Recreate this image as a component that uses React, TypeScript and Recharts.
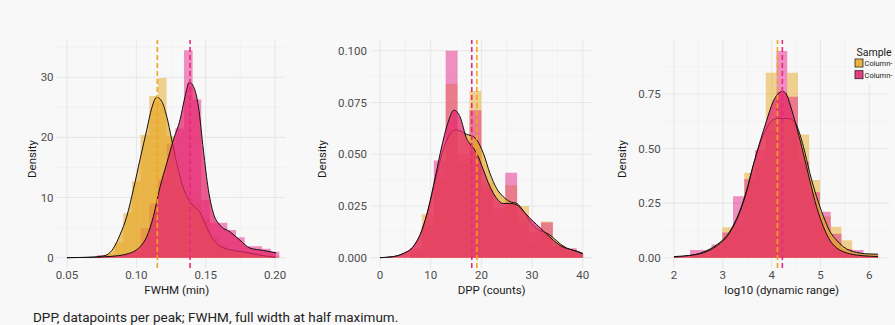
import React from 'react';
import { ComposedChart, Area, XAxis, YAxis, CartesianGrid, ReferenceLine } from 'recharts';

const FONT = 'Roboto, "Liberation Sans", Arial, sans-serif';
const BG = '#f8f8f8';
const ORANGE = '#E6A826';
const PINK = '#E42686';
const PINK_DENS = '#E6286E';
const ORANGE_MEAN = '#F0A51A';
const PINK_MEAN = '#E8287E';
const HIST_OPACITY = 0.5;
const DENS_OPACITY_A = 0.68;
const DENS_OPACITY_B = 0.75;

const sampleNames = ['Column-', 'Column-'];
const captionText = 'DPP, datapoints per peak; FWHM, full width at half maximum.';

// ---------- Panel 1: FWHM ----------
const fwhmBinEdges = [0.0718, 0.07805, 0.0843, 0.09055, 0.0968, 0.10305, 0.1093, 0.11555, 0.1218, 0.12805, 0.1343,
  0.14055, 0.1468, 0.15305, 0.1593, 0.16555, 0.1718, 0.17805, 0.1843, 0.19055, 0.1968, 0.20305];
const fwhmHistA = [0, 0.6, 2.5, 7.4, 12.7, 20.4, 26.9, 29.9, 20.2, 12, 10, 9.1, 6.5, 3.5, 2.0, 1.3, 1.2, 1.0, 0.8, 0.5, 0.3];
const fwhmHistB = [0.45, 0.3, 0.3, 0.6, 1.0, 4.9, 9, 13, 19, 21.5, 34.5, 26.3, 9.6, 5.8, 5.8, 4.6, 3.4, 1.9, 1.9, 1.5, 1.0];
const fwhmDensAx = [0.05, 0.0644, 0.0738, 0.0786, 0.0834, 0.0882, 0.093, 0.0978, 0.1026, 0.1075, 0.1111, 0.1147, 0.1183,
  0.1219, 0.1255, 0.1291, 0.1327, 0.1363, 0.1411, 0.1459, 0.1507, 0.1555, 0.1603, 0.1699, 0.1796, 0.1892, 0.2];
const fwhmDensAy = [0, 0.05, 0.2, 0.45, 1.55, 3.8, 6.8, 11.3, 16.3, 21.3, 24.9, 26.7, 26.0, 23.5, 19.6, 15.7, 12.4, 10.2,
  8.6, 7.5, 5.0, 3.0, 1.9, 1.2, 0.85, 0.4, 0.05];
const fwhmDensBx = [0.05, 0.0738, 0.081, 0.093, 0.1026, 0.1075, 0.1122, 0.1171, 0.1219, 0.1267, 0.1315, 0.1351, 0.1382,
  0.1411, 0.1447, 0.1483, 0.1519, 0.1555, 0.1603, 0.1675, 0.1747, 0.1819, 0.1915, 0.2007];
const fwhmDensBy = [0, 0.1, 0.2, 0.6, 1.8, 3.5, 6.8, 11.8, 15.7, 19.6, 22.95, 26.8, 29.2, 28.5, 25.2, 17.9, 11.3, 7.4,
  5.4, 4.3, 2.9, 1.6, 1.2, 0.8];
const fwhmMeans = [0.1151, 0.1387];
const fwhmXTicks = [0.05, 0.1, 0.15, 0.2];
const fwhmXMinor = [0.075, 0.125, 0.175];
const fwhmYTicks = [0, 10, 20, 30];
const fwhmYMinor = [5, 15, 25, 35];

// ---------- Panel 2: DPP ----------
const dppBinEdges = [5.9, 8.25, 10.6, 12.95, 15.3, 17.65, 20.0, 22.35, 24.7, 27.05, 29.4, 31.75, 34.1, 36.45, 38.8, 40.1];
const dppHistA = [0.002, 0.021, 0.038, 0.084, 0.045, 0.0805, 0.036, 0.02, 0.035, 0.025, 0.0065, 0.0175, 0.006, 0.003, 0.002];
const dppHistB = [0.0045, 0.015, 0.047, 0.1, 0.05, 0.0713, 0.033, 0.024, 0.041, 0.017, 0.0125, 0.017, 0.0055, 0.0045, 0.0015];
const dppDensAx = [0, 2.6, 4.6, 6.6, 8.2, 9.5, 10.9, 12.2, 13.5, 14.8, 15.8, 17.1, 18.4, 19.1, 20.4, 21.7, 23.0, 24.3,
  25.7, 27.0, 28.3, 29.6, 30.9, 32.2, 33.5, 34.9, 36.2, 37.5, 38.8, 40.0];
const dppDensAy = [0, 0.0005, 0.002, 0.0053, 0.0126, 0.023, 0.0375, 0.05, 0.0585, 0.0617, 0.0613, 0.0596, 0.0585, 0.0568,
  0.0504, 0.0407, 0.0335, 0.0295, 0.027, 0.0262, 0.0225, 0.0175, 0.014, 0.0125, 0.011, 0.008, 0.0055, 0.004, 0.0032, 0.0021];
const dppDensBx = [0, 2.6, 4.6, 6.6, 8.2, 9.5, 10.9, 12.2, 13.5, 14.6, 15.8, 17.1, 17.76, 19.1, 20.4, 21.7, 23.0, 24.3,
  25.7, 27.0, 28.3, 29.6, 30.9, 32.2, 33.5, 34.9, 36.2, 37.5, 38.8, 40.0];
const dppDensBy = [0, 0.0005, 0.002, 0.0056, 0.013, 0.0235, 0.039, 0.054, 0.066, 0.0713, 0.068, 0.0575, 0.055, 0.0504,
  0.0424, 0.0343, 0.0287, 0.0262, 0.0262, 0.0255, 0.0225, 0.019, 0.016, 0.013, 0.01, 0.007, 0.005, 0.004, 0.003, 0.0018];
const dppMeans = [19.1, 18.1];
const dppXTicks = [0, 10, 20, 30, 40];
const dppXMinor = [5, 15, 25, 35];
const dppYTicks = [0, 0.025, 0.05, 0.075, 0.1];
const dppYMinor = [0.0125, 0.0375, 0.0625, 0.0875];

// ---------- Panel 3: log10 dynamic range ----------
const drBinEdges = [2.33, 2.55, 2.77, 2.99, 3.21, 3.44, 3.66, 3.88, 4.1, 4.32, 4.54, 4.77, 4.99, 5.21, 5.43, 5.65, 5.88, 6.1, 6.18];
const drHistA = [0.01, 0.01, 0.04, 0.139, 0.14, 0.389, 0.42, 0.847, 0.76, 0.847, 0.565, 0.356, 0.19, 0.142, 0.08, 0.02, 0.015, 0.015];
const drHistB = [0.035, 0.035, 0.06, 0.115, 0.282, 0.36, 0.493, 0.585, 0.947, 0.737, 0.44, 0.3, 0.21, 0.11, 0.04, 0.035, 0.015, 0.015];
const drDensAx = [2.0, 2.53, 2.74, 2.94, 3.08, 3.22, 3.35, 3.49, 3.62, 3.76, 3.9, 4.03, 4.15, 4.3, 4.41, 4.51, 4.65, 4.78,
  4.92, 5.06, 5.19, 5.33, 5.47, 5.6, 5.74, 5.84, 6.0, 6.18];
const drDensAy = [0.002, 0.02, 0.04, 0.07, 0.1, 0.15, 0.215, 0.31, 0.42, 0.52, 0.595, 0.632, 0.638, 0.638, 0.634, 0.607,
  0.51, 0.39, 0.28, 0.19, 0.122, 0.08, 0.05, 0.033, 0.024, 0.02, 0.017, 0.016];
const drDensBx = [2.0, 2.3, 2.53, 2.74, 2.94, 3.08, 3.22, 3.35, 3.49, 3.62, 3.76, 3.9, 4.03, 4.15, 4.22, 4.3, 4.38, 4.51,
  4.65, 4.78, 4.92, 5.06, 5.19, 5.33, 5.47, 5.6, 5.74, 6.0, 6.18];
const drDensBy = [0.005, 0.01, 0.018, 0.035, 0.065, 0.095, 0.145, 0.21, 0.305, 0.42, 0.53, 0.63, 0.715, 0.755, 0.762, 0.75,
  0.7, 0.6, 0.478, 0.356, 0.234, 0.142, 0.081, 0.045, 0.027, 0.018, 0.012, 0.007, 0.005];
const drMeans = [4.12, 4.22];
const drXTicks = [2, 3, 4, 5, 6];
const drXMinor = [2.5, 3.5, 4.5, 5.5];
const drYTicks = [0, 0.25, 0.5, 0.75];
const drYMinor = [0.125, 0.375, 0.625, 0.875];

type Pt = { x: number; y: number };
const histData = (edges: number[], vals: number[]): Pt[] =>
  edges.map((x, i) => ({ x, y: i < vals.length ? vals[i] : 0 }));
const curveData = (xs: number[], ys: number[]): Pt[] => xs.map((x, i) => ({ x, y: ys[i] }));

interface PanelProps {
  left: number;
  width: number;
  margin: { top: number; right: number; bottom: number; left: number };
  yAxisWidth: number;
  yTitleOffset: number;
  xTitleDx: number;
  xDomain: [number, number];
  yDomain: [number, number];
  xTicks: number[];
  xMinor: number[];
  yTicks: number[];
  yMinor: number[];
  xFmt: (v: number) => string;
  yFmt: (v: number) => string;
  xTitle: string;
  edges: number[];
  histA: number[];
  histB: number[];
  densA: Pt[];
  densB: Pt[];
  means: number[];
}

function DensityPanel(p: PanelProps) {
  const tickStyle = { fill: '#4d4d4d', fontSize: 11.5, fontFamily: FONT };
  return (
    <div style={{ position: 'absolute', left: p.left, top: 0 }}>
      <ComposedChart width={p.width} height={300} margin={p.margin}>
        <CartesianGrid horizontalValues={p.yMinor} verticalValues={p.xMinor} stroke="#efefef" strokeWidth={0.6} />
        <CartesianGrid horizontalValues={p.yTicks} verticalValues={p.xTicks} stroke="#e7e7e7" strokeWidth={1.1} />
        <XAxis
          type="number"
          dataKey="x"
          domain={p.xDomain}
          ticks={p.xTicks}
          allowDataOverflow
          axisLine={false}
          tickLine={false}
          tickSize={0}
          tickMargin={3}
          height={32}
          tick={tickStyle}
          tickFormatter={p.xFmt}
          label={{
            value: p.xTitle,
            position: 'insideBottom',
            offset: 6.5,
            dx: p.xTitleDx,
            fill: '#1a1a1a',
            fontSize: 11.5,
            fontFamily: FONT,
          }}
        />
        <YAxis
          type="number"
          domain={p.yDomain}
          ticks={p.yTicks}
          allowDataOverflow
          axisLine={false}
          tickLine={false}
          tickSize={0}
          tickMargin={3}
          width={p.yAxisWidth}
          tick={tickStyle}
          tickFormatter={p.yFmt}
          label={{
            value: 'Density',
            angle: -90,
            position: 'insideLeft',
            offset: p.yTitleOffset,
            dy: 5,
            fill: '#1a1a1a',
            fontSize: 11.5,
            fontFamily: FONT,
            style: { textAnchor: 'middle' },
          }}
        />
        <Area data={histData(p.edges, p.histA)} dataKey="y" type="stepAfter" fill={ORANGE} fillOpacity={HIST_OPACITY}
          stroke="none" baseValue={0} isAnimationActive={false} dot={false} activeDot={false} />
        <Area data={histData(p.edges, p.histB)} dataKey="y" type="stepAfter" fill={PINK} fillOpacity={HIST_OPACITY}
          stroke="none" baseValue={0} isAnimationActive={false} dot={false} activeDot={false} />
        <Area data={p.densA} dataKey="y" type="monotone" fill={ORANGE} fillOpacity={DENS_OPACITY_A}
          stroke="#111" strokeWidth={1} baseValue={0} isAnimationActive={false} dot={false} activeDot={false} />
        <Area data={p.densB} dataKey="y" type="monotone" fill={PINK_DENS} fillOpacity={DENS_OPACITY_B}
          stroke="#111" strokeWidth={1} baseValue={0} isAnimationActive={false} dot={false} activeDot={false} />
        <ReferenceLine x={p.means[0]} stroke={ORANGE_MEAN} strokeWidth={1.6} strokeDasharray="5 3" />
        <ReferenceLine x={p.means[1]} stroke={PINK_MEAN} strokeWidth={1.6} strokeDasharray="5 3" />
      </ComposedChart>
    </div>
  );
}

export default function App() {
  return (
    <div style={{ position: 'relative', width: 895, height: 325, background: BG, overflow: 'hidden', fontFamily: FONT }}>
      <style>{'html,body{margin:0;padding:0;background:#f8f8f8;}'}</style>
      <DensityPanel
        left={0}
        width={300}
        margin={{ top: 40, right: 14.5, bottom: 0, left: 16.6 }}
        yAxisWidth={40}
        yTitleOffset={15.4}
        xTitleDx={5.7}
        xDomain={[0.0425, 0.2075]}
        yDomain={[-1.72, 36.2]}
        xTicks={fwhmXTicks}
        xMinor={fwhmXMinor}
        yTicks={fwhmYTicks}
        yMinor={fwhmYMinor}
        xFmt={(v) => v.toFixed(2)}
        yFmt={(v) => String(v)}
        xTitle="FWHM (min)"
        edges={fwhmBinEdges}
        histA={fwhmHistA}
        histB={fwhmHistB}
        densA={curveData(fwhmDensAx, fwhmDensAy)}
        densB={curveData(fwhmDensBx, fwhmDensBy)}
        means={fwhmMeans}
      />
      <DensityPanel
        left={300}
        width={300}
        margin={{ top: 40, right: 7.1, bottom: 0, left: 14.9 }}
        yAxisWidth={55}
        yTitleOffset={6.8}
        xTitleDx={10.3}
        xDomain={[-2, 42]}
        yDomain={[-0.005, 0.1052]}
        xTicks={dppXTicks}
        xMinor={dppXMinor}
        yTicks={dppYTicks}
        yMinor={dppYMinor}
        xFmt={(v) => String(v)}
        yFmt={(v) => v.toFixed(3)}
        xTitle="DPP (counts)"
        edges={dppBinEdges}
        histA={dppHistA}
        histB={dppHistB}
        densA={curveData(dppDensAx, dppDensAy)}
        densB={curveData(dppDensBx, dppDensBy)}
        means={dppMeans}
      />
      <DensityPanel
        left={600}
        width={295}
        margin={{ top: 40, right: 5.7, bottom: 0, left: 13.7 }}
        yAxisWidth={50}
        yTitleOffset={8}
        xTitleDx={5.2}
        xDomain={[1.79, 6.41]}
        yDomain={[-0.0473, 0.9975]}
        xTicks={drXTicks}
        xMinor={drXMinor}
        yTicks={drYTicks}
        yMinor={drYMinor}
        xFmt={(v) => String(v)}
        yFmt={(v) => v.toFixed(2)}
        xTitle="log10 (dynamic range)"
        edges={drBinEdges}
        histA={drHistA}
        histB={drHistB}
        densA={curveData(drDensAx, drDensAy)}
        densB={curveData(drDensBx, drDensBy)}
        means={drMeans}
      />
      <svg width={895} height={325} style={{ position: 'absolute', left: 0, top: 0, pointerEvents: 'none' }}>
        <rect x={851} y={42} width={44} height={41} fill={BG} />
        <text x={856.5} y={55.5} fontSize={10.5} fill="#1a1a1a" fontFamily={FONT}>Sample</text>
        {sampleNames.map((name, i) => {
          const y0 = 59 + i * 11.7;
          const fill = i === 0 ? ORANGE : PINK;
          const densFill = i === 0 ? ORANGE : PINK_DENS;
          const densOp = i === 0 ? DENS_OPACITY_A : DENS_OPACITY_B;
          const line = i === 0 ? ORANGE_MEAN : PINK_MEAN;
          return (
            <g key={i}>
              <rect x={855} y={y0} width={8} height={8} fill={fill} fillOpacity={HIST_OPACITY} />
              <rect x={855} y={y0} width={8} height={8} fill={densFill} fillOpacity={densOp} stroke="#222" strokeWidth={0.8} />
              <line x1={859} x2={859} y1={y0} y2={y0 + 8} stroke={line} strokeWidth={1} />
              <text x={864.5} y={y0 + 7} fontSize={7.5} fill="#1a1a1a" fontFamily={FONT}>{name}</text>
            </g>
          );
        })}
        <text x={33} y={322} fontSize={13.5} fill="#222" fontFamily={FONT}>{captionText}</text>
      </svg>
    </div>
  );
}
